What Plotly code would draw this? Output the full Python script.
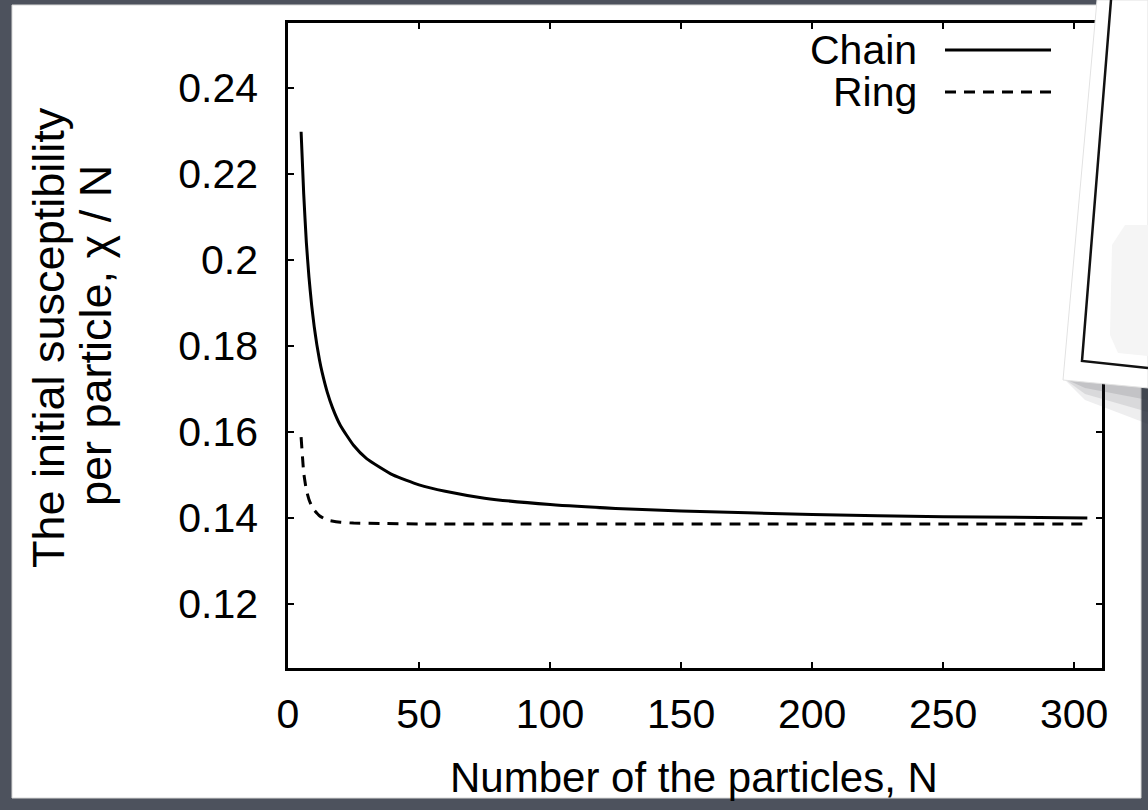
import plotly.graph_objects as go

# ---------------- data ----------------
chain_n = [5, 6, 7, 8, 9, 10, 11, 12, 13, 15, 17, 20, 25, 30, 40, 50, 60, 75, 100, 125, 150, 200, 250, 305]
chain_chi = [0.2298, 0.2153, 0.2041, 0.1960, 0.1896, 0.1845, 0.1803, 0.1768, 0.1739, 0.1692,
             0.1656, 0.1615, 0.1569, 0.1538, 0.1500, 0.1477, 0.1462, 0.1446, 0.1431, 0.1422,
             0.1416, 0.1408, 0.1403, 0.1400]

ring_n = [5, 6, 7, 8, 9, 10, 12, 15, 20, 25, 35, 50, 100, 200, 305]
ring_chi = [0.1588, 0.1505, 0.1465, 0.1443, 0.1428, 0.1418, 0.1405, 0.1395, 0.1390, 0.1388,
            0.1387, 0.1386, 0.1386, 0.1386, 0.1386]

x_ticks = [0, 50, 100, 150, 200, 250, 300]
y_ticks = [0.12, 0.14, 0.16, 0.18, 0.20, 0.22, 0.24]
y_tick_text = ["0.12", "0.14", "0.16", "0.18", "0.2", "0.22", "0.24"]

series_names = ["Chain", "Ring"]
x_title = "Number of the particles, N"
y_title_lines = ["The initial susceptibility", "per particle, \u03c7 / N"]

# ---------------- layout geometry ----------------
W, H = 1148, 810
L, R, T, B = 288, 1102, 23, 668
FONT = "Liberation Sans, Arial, Helvetica, sans-serif"
FS = 41
FS_Y = 45
BG = "#4d525d"


def px(x):
    return (x - L) / (R - L)


def py(y):
    return (B - y) / (B - T)


def path(points, close=True):
    s = "M " + " L ".join(f"{px(x):.5f},{py(y):.5f}" for x, y in points)
    return s + (" Z" if close else "")


fig = go.Figure()
fig.add_trace(go.Scatter(x=chain_n, y=chain_chi, mode="lines", name=series_names[0],
                         line=dict(color="black", width=3, shape="spline", smoothing=0.5)))
fig.add_trace(go.Scatter(x=ring_n, y=ring_chi, mode="lines", name=series_names[1],
                         line=dict(color="black", width=3, dash="11px,8px",
                                   shape="spline", smoothing=0.4)))

shapes = []
# white slide panel
shapes.append(dict(type="rect", xref="paper", yref="paper", layer="below",
                   x0=px(12), x1=px(1141), y0=py(798), y1=py(5),
                   fillcolor="white", line=dict(color="#d8d8d8", width=1)))

# shadow of the overlaid paper
for i, a in enumerate([0.08, 0.10, 0.12]):
    d = 12 * (3 - i)
    shapes.append(dict(type="path", xref="paper", yref="paper", layer="above",
                       path=path([(1063, 378), (1148, 386), (1148, 388 + d), (1085, 382 + d * 0.5)]),
                       fillcolor=f"rgba(40,40,50,{a})", line=dict(width=0)))
# overlaid paper (top right decoration)
shapes.append(dict(type="path", xref="paper", yref="paper", layer="above",
                   path=path([(1097, 0), (1148, 0), (1148, 388), (1063, 380)]),
                   fillcolor="white", line=dict(color="#e2e2e2", width=1)))
shapes.append(dict(type="path", xref="paper", yref="paper", layer="above",
                   path=path([(1125, 225), (1148, 225), (1148, 356), (1118, 353), (1110, 335),
                              (1112, 245)]),
                   fillcolor="#f5f5f5", line=dict(width=0)))
shapes.append(dict(type="path", xref="paper", yref="paper", layer="above",
                   path=path([(1111, 0), (1082, 361), (1148, 368)], close=False),
                   line=dict(color="#111111", width=2.5)))

# legend samples (gnuplot style: text left, line right)
shapes.append(dict(type="line", xref="paper", yref="paper", layer="above",
                   x0=px(945), x1=px(1051), y0=py(50), y1=py(50),
                   line=dict(color="black", width=3)))
shapes.append(dict(type="line", xref="paper", yref="paper", layer="above",
                   x0=px(945), x1=px(1051), y0=py(92), y1=py(92),
                   line=dict(color="black", width=3, dash="11px,8px")))

annotations = [
    dict(text=series_names[0], xref="paper", yref="paper", x=px(919), y=py(50),
         xanchor="right", yanchor="middle", showarrow=False,
         font=dict(family=FONT, size=FS, color="black")),
    dict(text=series_names[1], xref="paper", yref="paper", x=px(919), y=py(92),
         xanchor="right", yanchor="middle", showarrow=False,
         font=dict(family=FONT, size=FS, color="black")),
    dict(text=y_title_lines[0], xref="paper", yref="paper", x=px(48), y=py(338),
         xanchor="center", yanchor="middle", textangle=-90, showarrow=False,
         font=dict(family=FONT, size=FS_Y, color="black")),
    dict(text=y_title_lines[1], xref="paper", yref="paper", x=px(96), y=py(336),
         xanchor="center", yanchor="middle", textangle=-90, showarrow=False,
         font=dict(family=FONT, size=FS_Y, color="black")),
    dict(text=x_title, xref="paper", yref="paper", x=px(694), y=py(777),
         xanchor="center", yanchor="middle", showarrow=False,
         font=dict(family=FONT, size=42, color="black")),
]

fig.update_layout(
    width=W, height=H,
    margin=dict(l=L, r=W - R, t=T, b=H - B, pad=0),
    paper_bgcolor=BG, plot_bgcolor="white",
    showlegend=False,
    font=dict(family=FONT, size=FS, color="black"),
    shapes=shapes, annotations=annotations,
    xaxis=dict(range=[0, 310.6], tickvals=x_ticks, ticks="inside", ticklen=6, tickwidth=2,
               tickcolor="black", showline=True, linecolor="black", linewidth=2.5,
               mirror="allticks", showgrid=False, zeroline=False,
               ticklabelstandoff=8, tickfont=dict(family=FONT, size=FS, color="black")),
    yaxis=dict(range=[0.1051, 0.2551], tickvals=y_ticks, ticktext=y_tick_text,
               ticks="inside", ticklen=6, tickwidth=2, tickcolor="black",
               showline=True, linecolor="black", linewidth=2.5, mirror="allticks",
               showgrid=False, zeroline=False, ticklabelstandoff=19,
               tickfont=dict(family=FONT, size=FS, color="black")),
)

fig.write_html("out.html")
